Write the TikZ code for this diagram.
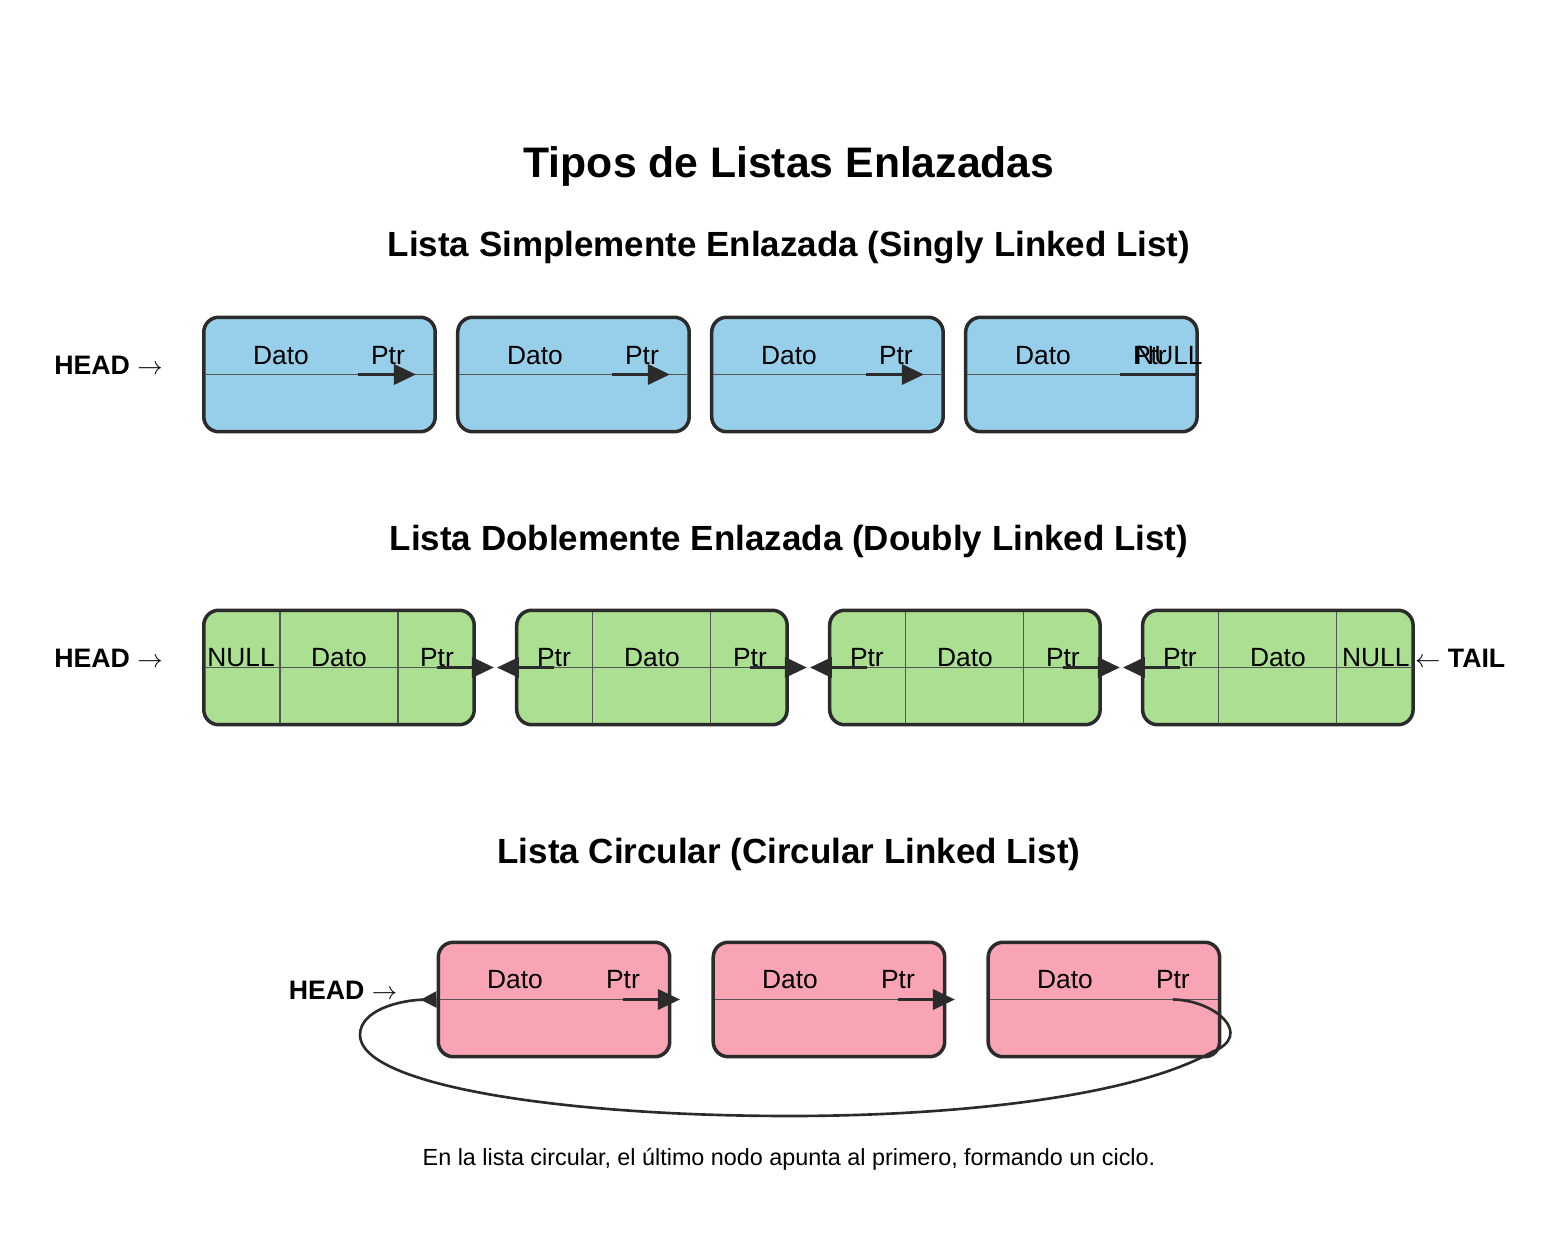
\documentclass[tikz,border=0pt]{standalone}
\usepackage{fontspec}
\setmainfont{Liberation Sans}
\usetikzlibrary{positioning, arrows.meta}
\definecolor{sfill}{RGB}{151, 207, 235}
\definecolor{dfill}{RGB}{171, 223, 145}
\definecolor{cfill}{RGB}{249, 164, 180}
\definecolor{edge}{RGB}{43, 43, 43}
\definecolor{cellgray}{RGB}{85, 85, 85}

\begin{document}
\begin{tikzpicture}[
    x=0.02cm, y=-0.02cm,
    listbox/.style={
        draw=edge,
        line width=2pt,
        rounded corners=0.3cm,
        fill=#1,
        minimum height=2.29cm,
        inner sep=0pt
    },
    listbox/.default=white,
    snode/.style={listbox=sfill, minimum width=4.63cm},
    dnode/.style={listbox=dfill, minimum width=5.41cm},
    cnode/.style={listbox=cfill, minimum width=4.63cm},
    cell/.style={font=\fontsize{15}{18}\selectfont, inner sep=0pt},
    cellline/.style={draw=cellgray, line width=0.6pt, shorten <=2pt, shorten >=2pt},
    ptrarrow/.style={-{Triangle[length=0.44cm, width=0.4cm]}, draw=edge, line width=1.9pt},
    looparrow/.style={-{Triangle[reversed, length=0.32cm, width=0.32cm]}, draw=edge, line width=1.5pt},
    headlbl/.style={font=\fontsize{15.2}{18}\selectfont\bfseries, inner sep=0pt},
    ttl/.style={font=\fontsize{24.3}{29}\selectfont\bfseries},
    secttl/.style={font=\fontsize{19.9}{24}\selectfont\bfseries},
    note/.style={font=\fontsize{13.3}{16}\selectfont}
]
\useasboundingbox (0,0) rectangle (1546,1256);

% === Titles ===
\node[ttl] (title) at (789,166) {Tipos de Listas Enlazadas};
\node[secttl] (sttl) at (789,248) {Lista Simplemente Enlazada (Singly Linked List)};
\node[secttl] (dttl) at (789,541) {Lista Doblemente Enlazada (Doubly Linked List)};
\node[secttl] (cttl) at (789,854) {Lista Circular (Circular Linked List)};

% === Singly linked ===
\node[snode] (s1) at (319.5,374.5) {};
\node[snode, right=0.38cm of s1] (s2) {};
\node[snode, right=0.38cm of s2] (s3) {};
\node[snode, right=0.38cm of s3] (s4) {};
\node[headlbl, left=0.78cm of s1, yshift=0.18cm] (shead) {HEAD $\rightarrow$};

\draw[cellline] (s1.west) -- (s1.east);
\draw[cellline] (s2.west) -- (s2.east);
\draw[cellline] (s3.west) -- (s3.east);
\draw[cellline] (s4.west) -- (s4.east);

\node[cell] (s1d) at ([xshift=-0.77cm, yshift=0.37cm]s1.center) {Dato};
\node[cell] (s1p) at ([xshift=1.37cm, yshift=0.37cm]s1.center) {Ptr};
\node[cell] (s2d) at ([xshift=-0.77cm, yshift=0.37cm]s2.center) {Dato};
\node[cell] (s2p) at ([xshift=1.37cm, yshift=0.37cm]s2.center) {Ptr};
\node[cell] (s3d) at ([xshift=-0.77cm, yshift=0.37cm]s3.center) {Dato};
\node[cell] (s3p) at ([xshift=1.37cm, yshift=0.37cm]s3.center) {Ptr};
\node[cell] (s4d) at ([xshift=-0.77cm, yshift=0.37cm]s4.center) {Dato};
\node[cell] (s4p) at ([xshift=1.37cm, yshift=0.37cm]s4.center) {Ptr};
\node[cell, anchor=west] (s4n) at ([xshift=1.07cm, yshift=0.37cm]s4.center) {NULL};

\draw[ptrarrow] ([xshift=0.77cm]s1.center) -- ([xshift=1.93cm]s1.center);
\draw[ptrarrow] ([xshift=0.77cm]s2.center) -- ([xshift=1.93cm]s2.center);
\draw[ptrarrow] ([xshift=0.77cm]s3.center) -- ([xshift=1.93cm]s3.center);
\draw[ptrarrow, -] ([xshift=0.77cm]s4.center) -- (s4.east);

% === Doubly linked ===
\node[dnode] (d1) at (339,667.5) {};
\node[dnode, right=0.78cm of d1] (d2) {};
\node[dnode, right=0.78cm of d2] (d3) {};
\node[dnode, right=0.78cm of d3] (d4) {};
\node[headlbl, left=0.78cm of d1, yshift=0.19cm] (dhead) {HEAD $\rightarrow$};
\node[headlbl, right=0cm of d4, yshift=0.19cm] (dtail) {$\leftarrow$ TAIL};

\draw[cellline] (d1.west) -- (d1.east);
\draw[cellline] ([xshift=-1.18cm]d1.north) -- ([xshift=-1.18cm]d1.south);
\draw[cellline] ([xshift=1.18cm]d1.north) -- ([xshift=1.18cm]d1.south);
\draw[cellline] (d2.west) -- (d2.east);
\draw[cellline] ([xshift=-1.18cm]d2.north) -- ([xshift=-1.18cm]d2.south);
\draw[cellline] ([xshift=1.18cm]d2.north) -- ([xshift=1.18cm]d2.south);
\draw[cellline] (d3.west) -- (d3.east);
\draw[cellline] ([xshift=-1.18cm]d3.north) -- ([xshift=-1.18cm]d3.south);
\draw[cellline] ([xshift=1.18cm]d3.north) -- ([xshift=1.18cm]d3.south);
\draw[cellline] (d4.west) -- (d4.east);
\draw[cellline] ([xshift=-1.18cm]d4.north) -- ([xshift=-1.18cm]d4.south);
\draw[cellline] ([xshift=1.18cm]d4.north) -- ([xshift=1.18cm]d4.south);

\node[cell] (d1l) at ([xshift=-1.96cm, yshift=0.19cm]d1.center) {NULL};
\node[cell] (d1d) at ([yshift=0.19cm]d1.center) {Dato};
\node[cell] (d1r) at ([xshift=1.96cm, yshift=0.19cm]d1.center) {Ptr};
\node[cell] (d2l) at ([xshift=-1.96cm, yshift=0.19cm]d2.center) {Ptr};
\node[cell] (d2d) at ([yshift=0.19cm]d2.center) {Dato};
\node[cell] (d2r) at ([xshift=1.96cm, yshift=0.19cm]d2.center) {Ptr};
\node[cell] (d3l) at ([xshift=-1.96cm, yshift=0.19cm]d3.center) {Ptr};
\node[cell] (d3d) at ([yshift=0.19cm]d3.center) {Dato};
\node[cell] (d3r) at ([xshift=1.96cm, yshift=0.19cm]d3.center) {Ptr};
\node[cell] (d4l) at ([xshift=-1.96cm, yshift=0.19cm]d4.center) {Ptr};
\node[cell] (d4d) at ([yshift=0.19cm]d4.center) {Dato};
\node[cell] (d4r) at ([xshift=1.96cm, yshift=0.19cm]d4.center) {NULL};

\draw[ptrarrow] ([xshift=1.96cm]d1.center) -- ([xshift=3.1cm]d1.center);
\draw[ptrarrow] ([xshift=-1.96cm]d2.center) -- ([xshift=-3.1cm]d2.center);
\draw[ptrarrow] ([xshift=1.96cm]d2.center) -- ([xshift=3.1cm]d2.center);
\draw[ptrarrow] ([xshift=-1.96cm]d3.center) -- ([xshift=-3.1cm]d3.center);
\draw[ptrarrow] ([xshift=1.96cm]d3.center) -- ([xshift=3.1cm]d3.center);
\draw[ptrarrow] ([xshift=-1.96cm]d4.center) -- ([xshift=-3.1cm]d4.center);

% === Circular ===
\node[cnode] (c1) at (554,999.5) {};
\node[cnode, right=0.8cm of c1] (c2) {};
\node[cnode, right=0.8cm of c2] (c3) {};
\node[headlbl, left=0.78cm of c1, yshift=0.19cm] (chead) {HEAD $\rightarrow$};

\draw[cellline] (c1.west) -- (c1.east);
\draw[cellline] (c2.west) -- (c2.east);
\draw[cellline] (c3.west) -- (c3.east);

\node[cell] (c1d) at ([xshift=-0.78cm, yshift=0.39cm]c1.center) {Dato};
\node[cell] (c1p) at ([xshift=1.38cm, yshift=0.39cm]c1.center) {Ptr};
\node[cell] (c2d) at ([xshift=-0.78cm, yshift=0.39cm]c2.center) {Dato};
\node[cell] (c2p) at ([xshift=1.38cm, yshift=0.39cm]c2.center) {Ptr};
\node[cell] (c3d) at ([xshift=-0.78cm, yshift=0.39cm]c3.center) {Dato};
\node[cell] (c3p) at ([xshift=1.38cm, yshift=0.39cm]c3.center) {Ptr};

\draw[ptrarrow] ([xshift=1.38cm]c1.center) -- ([xshift=2.52cm]c1.center);
\draw[ptrarrow] ([xshift=1.38cm]c2.center) -- ([xshift=2.52cm]c2.center);
\draw[looparrow] ([xshift=1.38cm]c3.center)
    .. controls (1215,1000) and (1255,1035) .. (1212,1052)
    .. controls (1130,1098) and (950,1116) .. (790,1116)
    .. controls (560,1116) and (360,1085) .. (360,1035)
    .. controls (360,1010) and (400,1000) .. (c1.west);

\node[note] (cnote) at (789,1159) {En la lista circular, el último nodo apunta al primero, formando un ciclo.};

\end{tikzpicture}
\end{document}
